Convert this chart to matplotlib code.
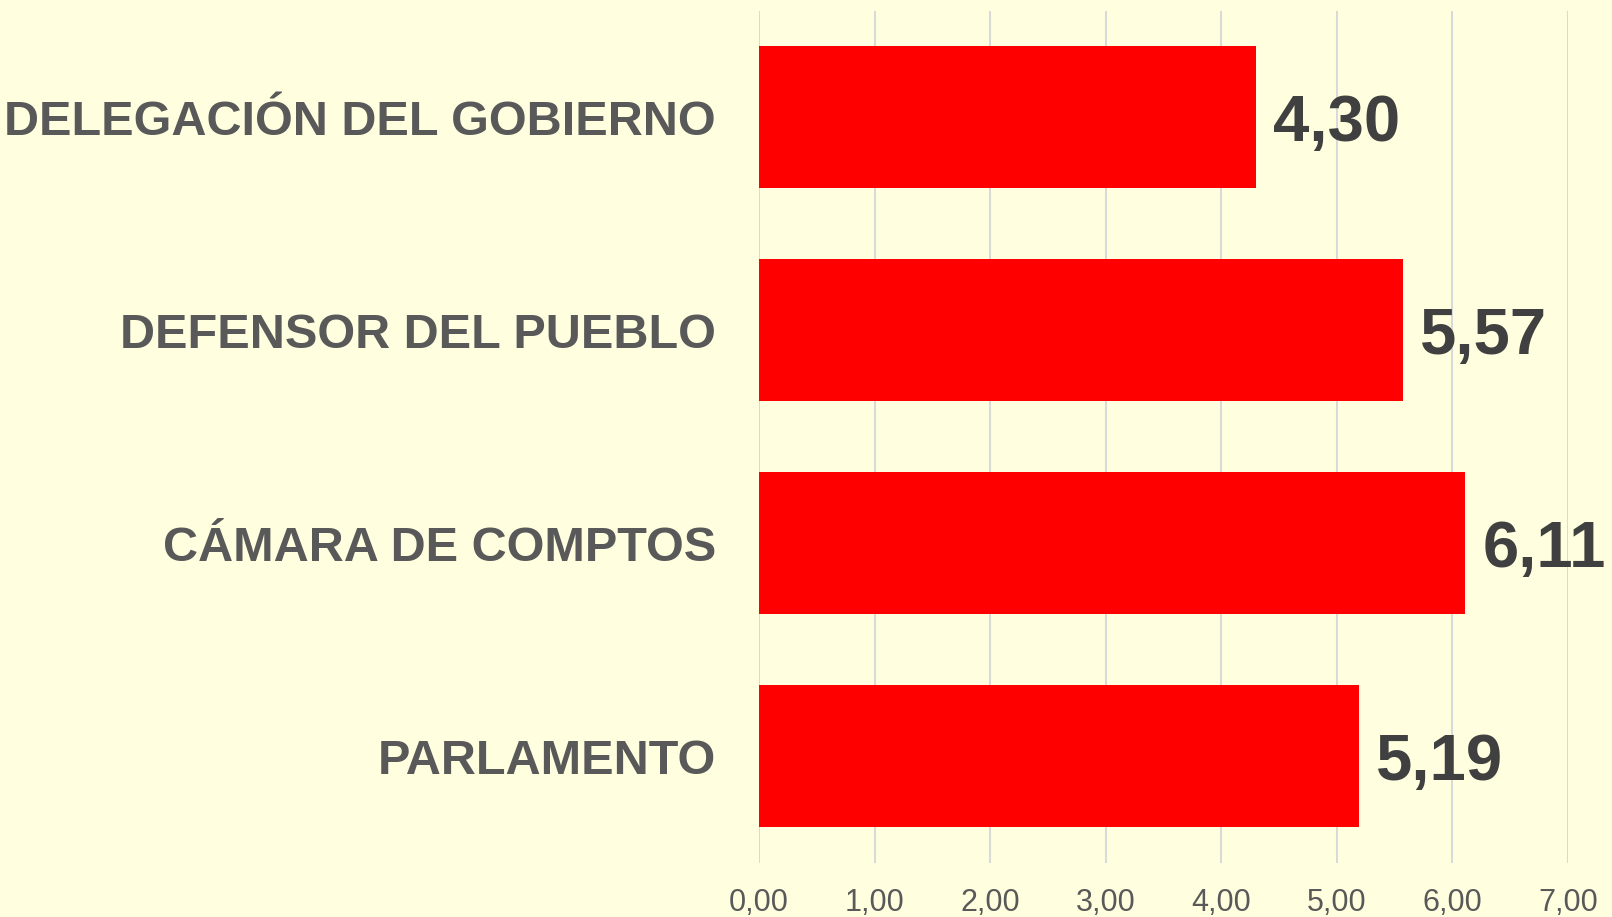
import matplotlib
matplotlib.use("Agg")
from matplotlib import pyplot as plt

# data, top to bottom as in the picture
categories = ["DELEGACIÓN DEL GOBIERNO", "DEFENSOR DEL PUEBLO", "CÁMARA DE COMPTOS", "PARLAMENTO"]
values = [4.30, 5.57, 6.11, 5.19]
xticks = [0, 1, 2, 3, 4, 5, 6, 7]

plt.rcParams['font.family'] = ['Liberation Sans', 'DejaVu Sans']
bg = "#FFFFE0"

fig = plt.figure(figsize=(16.12, 9.17), dpi=100, facecolor=bg)
ax = fig.add_axes([0.4709, 0.0594, 0.5018, 0.9291])
ax.set_facecolor(bg)

ypos = list(range(len(categories)))
ax.barh(ypos, values, height=0.667, color="#FF0000", zorder=3)

# value labels next to the bars
for y, v in zip(ypos, values):
    ax.text(v + 0.15, y, f"{v:.2f}".replace(".", ","), va="center_baseline", ha="left",
            fontsize=47, fontweight="bold", color="#404040", zorder=4)

ax.set_ylim(3.5, -0.5)
ax.set_xlim(0, 7)
ax.set_yticks(ypos)
ax.set_yticklabels(categories, fontsize=35, fontweight="bold", color="#595959")
ax.set_xticks(xticks)
ax.set_xticklabels([f"{t:.2f}".replace(".", ",") for t in xticks], fontsize=22, color="#595959")
ax.tick_params(axis="y", length=0, pad=31)
ax.tick_params(axis="x", length=0, pad=18)

ax.grid(axis="x", color="#D9D9D9", linewidth=1.5, zorder=0)
for s in ax.spines.values():
    s.set_visible(False)

plt.savefig("out.png", dpi=100, facecolor=bg)
